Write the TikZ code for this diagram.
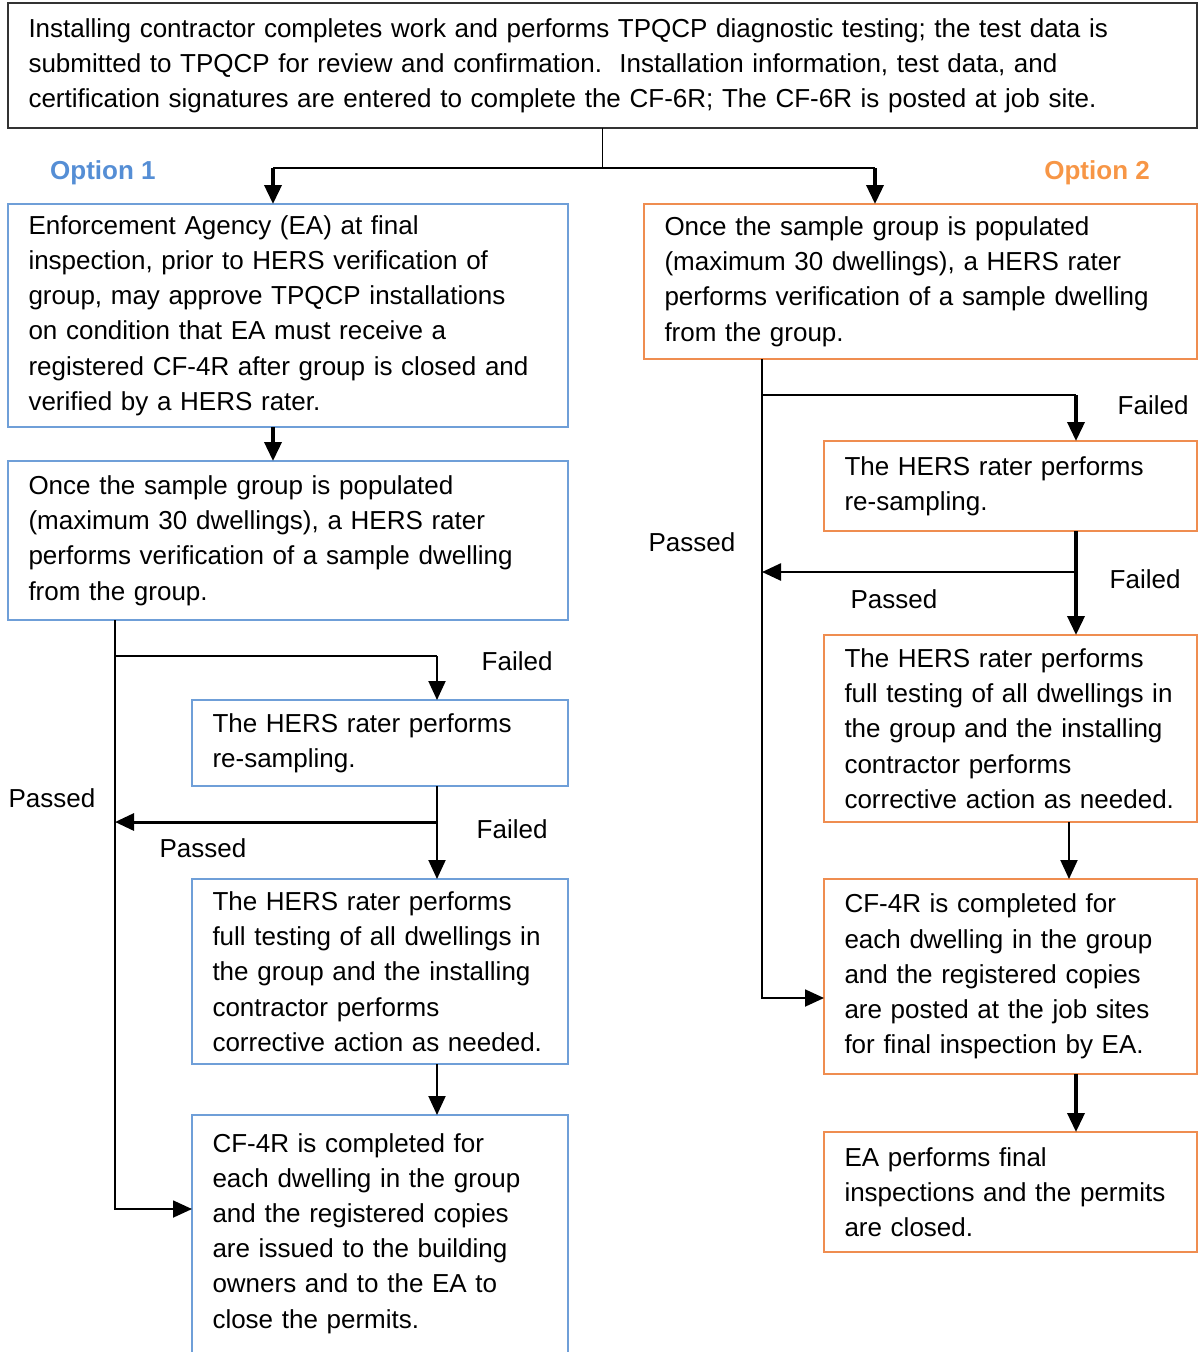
\documentclass[tikz,border=0pt]{standalone}
\usepackage{fontspec}
\setmainfont{Liberation Sans}
\usepackage{xcolor}
\usetikzlibrary{positioning,arrows.meta}
\definecolor{optblue}{HTML}{558ED5}
\definecolor{optorange}{HTML}{F79646}
\definecolor{boxblue}{HTML}{6F9FD8}
\definecolor{boxorange}{HTML}{EF8D50}
\tikzstyle{line} = [line width=1.6pt]
\tikzstyle{arrow} = [-{Triangle[length=19pt,width=17pt]}, line width=2pt]
\tikzstyle{thickarrow} = [-{Triangle[length=19pt,width=17pt]}, line width=3.6pt]
\tikzstyle{stage} = [draw, rectangle, align=left, inner xsep=20.5pt, inner ysep=0pt, outer sep=0pt, line width=1.1pt]
\tikzstyle{topbox} = [stage, draw=black!80, line width=1.3pt]
\tikzstyle{bluebox} = [stage, draw=boxblue]
\tikzstyle{orangebox} = [stage, draw=boxorange]
\tikzstyle{tag} = [inner sep=0pt]
\tikzstyle{optlabel} = [inner sep=0pt, font=\fontsize{26}{30}\selectfont\bfseries]

\begin{document}
\begin{tikzpicture}[x=1pt, y=-1pt, every node/.style={font=\fontsize{26}{35.2}\selectfont}]
	\useasboundingbox (0,0) rectangle (1199,1352);
	\clip (0,0) rectangle (1199,1352);

	\node (top) [topbox, text width=1148pt, minimum height=125pt, anchor=north west] at (8,3)
		{Installing contractor completes work and performs TPQCP diagnostic testing; the test data is\\
		submitted to TPQCP for review and confirmation.\ \ Installation information, test data, and\\
		certification signatures are entered to complete the CF-6R; The CF-6R is posted at job site.};

	% option 1
	\node (1ea) [bluebox, text width=519pt, minimum height=223pt, below=76pt of top.south west, anchor=north west]
		{Enforcement Agency (EA) at final\\ inspection, prior to HERS verification of\\
		group, may approve TPQCP installations\\ on condition that EA must receive a\\
		registered CF-4R after group is closed and\\ verified by a HERS rater.};
	\node (1sample) [bluebox, text width=519pt, minimum height=159pt, below=34pt of 1ea.south west, anchor=north west]
		{Once the sample group is populated\\ (maximum 30 dwellings), a HERS rater\\
		performs verification of a sample dwelling\\ from the group.};
	\node (1resample) [bluebox, text width=335pt, minimum height=86pt, below=80pt of 1sample.south east, anchor=north east]
		{The HERS rater performs\\ re-sampling.};
	\node (1full) [bluebox, text width=335pt, minimum height=185pt, below=93pt of 1resample.south]
		{The HERS rater performs\\ full testing of all dwellings in\\ the group and the installing\\
		contractor performs\\ corrective action as needed.};
	\node (1cf) [bluebox, text width=335pt, text height=37pt, text depth=260pt, below=51pt of 1full.south]
		{CF-4R is completed for\\ each dwelling in the group\\ and the registered copies\\
		are issued to the building\\ owners and to the EA to\\ close the permits.};

	% option 2
	\node (2sample) [orangebox, text width=512pt, minimum height=155pt, below=76pt of top.south east, anchor=north east]
		{Once the sample group is populated\\ (maximum 30 dwellings), a HERS rater\\
		performs verification of a sample dwelling\\ from the group.};
	\node (2resample) [orangebox, text width=332pt, minimum height=90pt, below=82pt of 2sample.south east, anchor=north east]
		{The HERS rater performs\\ re-sampling.};
	\node (2full) [orangebox, text width=332pt, minimum height=187pt, below=104pt of 2resample.south]
		{The HERS rater performs\\ full testing of all dwellings in\\ the group and the installing\\
		contractor performs\\ corrective action as needed.};
	\node (2cf) [orangebox, text width=332pt, minimum height=195pt, below=57pt of 2full.south]
		{CF-4R is completed for\\ each dwelling in the group\\ and the registered copies\\
		are posted at the job sites\\ for final inspection by EA.};
	\node (2close) [orangebox, text width=332pt, minimum height=120pt, below=58pt of 2cf.south]
		{EA performs final\\ inspections and the permits\\ are closed.};

	\node (opt1) [optlabel, text=optblue, above right=18.5pt and 42pt of 1ea.north west] {Option 1};
	\node (opt2) [optlabel, text=optorange, above left=18.5pt and 47pt of 2sample.north east] {Option 2};

	% split from the top box
	\coordinate (split) at ([yshift=-40pt]top.south);
	\coordinate (1in) at ([xshift=-15pt]1ea.north);
	\coordinate (2in) at ([xshift=-45.5pt]2sample.north);
	\draw [line] (top.south) -- (split);
	\draw [line] (split -| 1in) -- (split -| 2in);
	\draw [thickarrow] (split -| 1in) -- (1in);
	\draw [thickarrow] (split -| 2in) -- (2in);

	% left branch
	\draw [thickarrow] ([xshift=-15pt]1ea.south) -- ([xshift=-15pt]1sample.north);
	\coordinate (1pass) at ([xshift=107pt]1sample.south west);
	\coordinate (1fail) at ([xshift=57pt]1resample.north);
	\coordinate (1split) at ([yshift=44pt]1fail);
	\coordinate (1back) at ([xshift=57pt, yshift=-36pt]1resample.south);
	\coordinate (1join) at (1back -| 1pass);
	\coordinate (1cfin) at ([yshift=-94pt]1cf.north west);
	\draw [arrow, line width=1.8pt] (1pass) |- (1cfin);
	\draw [line] (1pass |- 1split) -- (1split);
	\draw [arrow] (1split) -- (1fail);
	\draw [arrow] ([xshift=57pt]1resample.south) -- ([xshift=57pt]1full.north);
	\draw [thickarrow, line width=3pt] (1back) -- (1join);
	\draw [arrow] ([xshift=57pt]1full.south) -- ([xshift=57pt]1cf.north);

	\node (1failA) [tag, right=44.5pt of 1split, yshift=-5pt] {Failed};
	\node (1failB) [tag, right=39.5pt of 1back, yshift=-7pt] {Failed};
	\node (1passA) [tag, left=190.5pt of 1back, yshift=-26pt] {Passed};
	\node (1passB) [tag, left=19.5pt of 1join, yshift=24pt] {Passed};

	% right branch
	\coordinate (2pass) at ([xshift=118pt]2sample.south west);
	\coordinate (2fail) at ([xshift=65.5pt]2resample.north);
	\coordinate (2split) at ([yshift=46pt]2fail);
	\coordinate (2back) at ([xshift=65.5pt, yshift=-41pt]2resample.south);
	\coordinate (2join) at (2back -| 2pass);
	\coordinate (2cfin) at ([yshift=-119pt]2cf.north west);
	\draw [arrow, line width=1.8pt] (2pass) |- (2cfin);
	\draw [line] (2pass |- 2split) -- (2split);
	\draw [thickarrow] (2split) -- (2fail);
	\draw [thickarrow] ([xshift=65.5pt]2resample.south) -- ([xshift=65.5pt]2full.north);
	\draw [arrow, line width=2.6pt] (2back) -- (2join);
	\draw [arrow] ([xshift=58.5pt]2full.south) -- ([xshift=58.5pt]2cf.north);
	\draw [thickarrow] ([xshift=65.5pt]2cf.south) -- ([xshift=65.5pt]2close.north);

	\node (2failA) [tag, right=41.5pt of 2split, yshift=-10pt] {Failed};
	\node (2failB) [tag, right=33.5pt of 2back, yshift=-7.5pt] {Failed};
	\node (2passA) [tag, left=138.5pt of 2back, yshift=-27pt] {Passed};
	\node (2passB) [tag, left=26.5pt of 2join, yshift=30pt] {Passed};
\end{tikzpicture}
\end{document}
